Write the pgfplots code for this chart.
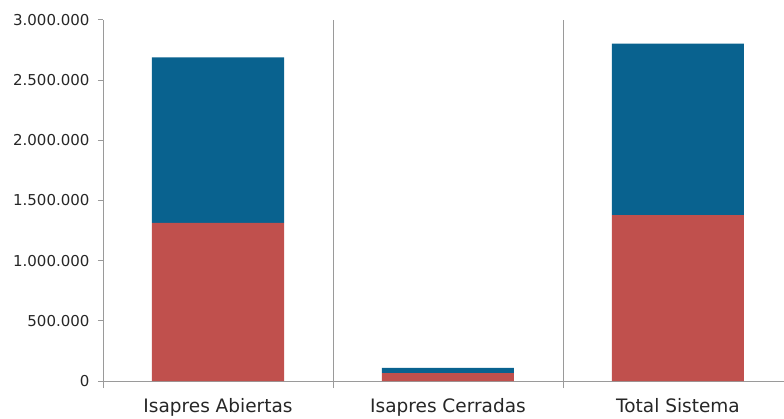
\documentclass[border=0pt]{standalone}
\usepackage{fontspec}
\setmainfont{DejaVu Sans}
\usepackage{pgfplots}
\pgfplotsset{compat=1.18}
\definecolor{barblue}{HTML}{09628F}
\definecolor{barred}{HTML}{C0504D}
\definecolor{axisgray}{HTML}{9A9A9A}
\begin{document}
\begin{tikzpicture}
\begin{axis}[
  scale only axis, width=681pt, height=361.3pt,
  at={(0,0)}, anchor=south west,
  ybar stacked, bar width=0.574,
  xmin=-0.5, xmax=2.461, ymin=0, ymax=3000000,
  axis x line*=bottom, axis y line*=left,
  axis line style={axisgray, line width=0.8pt},
  tick align=outside,
  xtick={0,1,2},
  xticklabels={Isapres Abiertas, Isapres Cerradas, Total Sistema},
  major x tick style={draw=none},
  extra x ticks={-0.5,0.5,1.5},
  extra x tick labels={},
  extra x tick style={grid=major, major grid style={axisgray, line width=0.8pt},
     major tick length=7pt, major x tick style={draw=axisgray, line width=0.8pt}},
  ytick={0,500000,...,3000000},
  major tick length=5pt,
  y tick style={axisgray, line width=0.8pt},
  scaled y ticks=false,
  yticklabel style={font=\fontsize{15}{18}\selectfont, text=black!85, xshift=-5pt, /pgf/number format/.cd, fixed, precision=0, 1000 sep={.}, assume math mode=true},
  xticklabel style={font=\fontsize{18.5}{22}\selectfont, text=black!85, yshift=-9pt},
]
\addplot[fill=barred, draw=none] coordinates {(0,1312000) (1,66000) (2,1378000)};
\addplot[fill=barblue, draw=none] coordinates {(0,1376000) (1,44000) (2,1424000)};
\end{axis}
\pgfresetboundingbox
\path[use as bounding box] (-103pt,-37pt) rectangle (681pt,381pt);
\end{tikzpicture}
\end{document}
